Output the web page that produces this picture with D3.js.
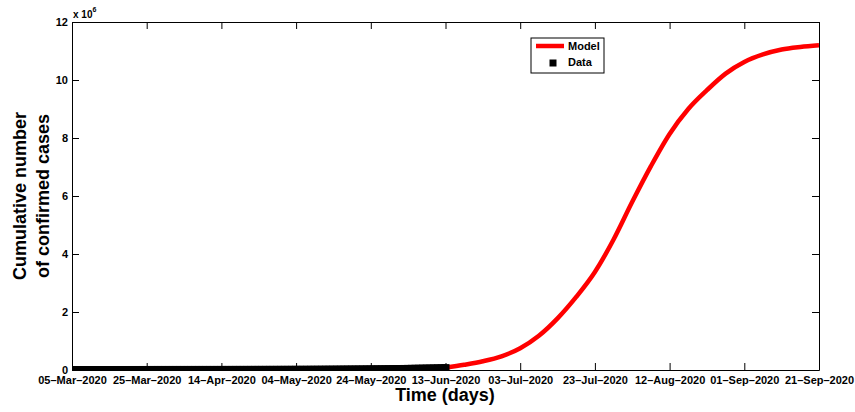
<!DOCTYPE html>
<html>
<head>
<meta charset="utf-8">
<script src="https://cdn.jsdelivr.net/npm/d3@7"></script>
<style>
  body { margin: 0; background: #fff; }
  text { font-family: "Liberation Sans", Arial, Helvetica, sans-serif; font-weight: bold; }
</style>
</head>
<body>
<div id="chart"></div>
<script>
// x tick labels (dates)
var tickLabels = ["05-Mar-2020", "25-Mar-2020", "14-Apr-2020", "04-May-2020", "24-May-2020",
    "13-Jun-2020", "03-Jul-2020", "23-Jul-2020", "12-Aug-2020", "01-Sep-2020", "21-Sep-2020"]
var yTicks = [0, 2, 4, 6, 8, 10, 12]

// observed cumulative cases, one value per day starting 05-Mar-2020
var dataStart = "05-Mar-2020"
var dataCases = [1, 1, 2, 3, 7, 7, 13, 16, 24, 38, 51, 62, 85, 116, 150, 202, 240, 274, 402, 554,
    709, 927, 1170, 1187, 1280, 1326, 1353, 1380, 1462, 1505, 1585, 1655, 1686, 1749, 1845, 1934,
    2003, 2028, 2173, 2272, 2415, 2506, 2605, 2783, 3034, 3158, 3300, 3465, 3635, 3953, 4220, 4361,
    4546, 4793, 4996, 5350, 5647, 5951, 6336, 6783, 7220, 7572, 7808, 8232, 8895, 9420, 10015,
    10652, 11350, 12074, 12739, 13524, 14355, 15515, 16433, 17200, 18003, 19137, 20125, 21343,
    22583, 23615, 24264, 25937, 27403, 29240, 30967, 32683, 34357, 35812, 37525, 40792, 43434,
    45973, 48285, 50879, 52991, 55421, 58568, 61927, 65736]

// model curve (days since 05-Mar-2020, cases in millions)
var modelDays = [100, 105, 110, 115, 120, 125, 130, 135, 140, 145, 150, 155, 160, 165, 170, 175, 180, 185, 190, 195, 200]
var modelCases = [0.08, 0.18, 0.30, 0.47, 0.75, 1.18, 1.78, 2.52, 3.38, 4.50, 5.80, 7.03, 8.14, 9.00, 9.65, 10.22, 10.62, 10.88, 11.05, 11.14, 11.20]

var svgSize = { width: 855, height: 412 }
var margin = { top: 22, bottom: 42, left: 72, right: 36 }
var chartSize = {
    width: svgSize.width - margin.left - margin.right,
    height: svgSize.height - margin.top - margin.bottom
}

var parseDate = d3.timeParse("%d-%b-%Y")
var fmtDate = d3.timeFormat("%d\u2013%b\u2013%Y")
var start = parseDate(dataStart)
var tickDates = tickLabels.map(parseDate)
var dayToDate = d => d3.timeDay.offset(start, d)

var svg = d3.select("#chart")
    .append("svg")
    .attr("width", svgSize.width)
    .attr("height", svgSize.height)

var frame = svg.append("g")
    .attr("transform", `translate(${margin.left}, ${margin.top})`)

var xScale = d3.scaleTime()
    .domain([tickDates[0], tickDates[tickDates.length - 1]])
    .range([0, chartSize.width])

var yScale = d3.scaleLinear()
    .domain([0, 12])
    .range([chartSize.height, 0])

frame.append("clipPath").attr("id", "plotClip")
    .append("rect")
    .attr("width", chartSize.width)
    .attr("height", chartSize.height)

// axes with inward ticks, on all four sides
var bottomAxis = d3.axisBottom(xScale).tickValues(tickDates).tickFormat(fmtDate)
    .tickSizeInner(-7).tickSizeOuter(0).tickPadding(6)
var topAxis = d3.axisTop(xScale).tickValues(tickDates).tickFormat("")
    .tickSizeInner(-7).tickSizeOuter(0)
var leftAxis = d3.axisLeft(yScale).tickValues(yTicks).tickFormat(d3.format("d"))
    .tickSizeInner(-7).tickSizeOuter(0).tickPadding(4)
var rightAxis = d3.axisRight(yScale).tickValues(yTicks).tickFormat("")
    .tickSizeInner(-7).tickSizeOuter(0)

frame.append("g").attr("class", "axis").attr("transform", `translate(0, ${chartSize.height})`).call(bottomAxis)
frame.append("g").attr("class", "axis").call(topAxis)
frame.append("g").attr("class", "axis").call(leftAxis)
frame.append("g").attr("class", "axis").attr("transform", `translate(${chartSize.width}, 0)`).call(rightAxis)

frame.selectAll(".axis text")
    .attr("font-size", 11)
    .attr("fill", "#000")
frame.selectAll(".axis path, .axis line").attr("stroke", "#000")

// model line
var line = d3.line()
    .x((d, i) => xScale(dayToDate(modelDays[i])))
    .y(d => yScale(d))
    .curve(d3.curveMonotoneX)

var plot = frame.append("g").attr("clip-path", "url(#plotClip)")

plot.append("path")
    .datum(modelCases)
    .attr("d", line)
    .attr("fill", "none")
    .attr("stroke", "#ff0000")
    .attr("stroke-width", 4.5)

// data markers
var sq = 8
plot.selectAll("rect.data")
    .data(dataCases)
    .enter()
    .append("rect")
    .attr("class", "data")
    .attr("x", (d, i) => xScale(dayToDate(i)) - sq / 2)
    .attr("y", d => yScale(d / 1e6) - sq / 2)
    .attr("width", sq)
    .attr("height", sq)
    .attr("fill", "#000")

// exponent label
var expo = frame.append("text")
    .attr("x", 1)
    .attr("y", -4)
    .attr("font-size", 10)
expo.append("tspan").text("x 10")
expo.append("tspan").attr("dy", -6).attr("font-size", 7).text("6")

// axis titles
frame.append("text")
    .attr("x", 445 - margin.left)
    .attr("y", 401 - margin.top)
    .attr("text-anchor", "middle")
    .attr("font-size", 18)
    .text("Time (days)")

var yTitle = frame.append("text")
    .attr("transform", `translate(${-margin.left}, ${chartSize.height / 2}) rotate(-90)`)
    .attr("text-anchor", "middle")
    .attr("font-size", 18)
yTitle.append("tspan").attr("x", 0).attr("y", 26).text("Cumulative number")
yTitle.append("tspan").attr("x", 0).attr("y", 49).text("of confirmed cases")

// legend
var legend = svg.append("g").attr("transform", "translate(531, 38)")
legend.append("rect")
    .attr("width", 73)
    .attr("height", 35)
    .attr("fill", "#fff")
    .attr("stroke", "#000")
legend.append("line")
    .attr("x1", 5).attr("x2", 33)
    .attr("y1", 8).attr("y2", 8)
    .attr("stroke", "#ff0000")
    .attr("stroke-width", 4.5)
legend.append("text").attr("x", 37).attr("y", 12).attr("font-size", 11).text("Model")
legend.append("rect")
    .attr("x", 18.5).attr("y", 21.5)
    .attr("width", 7).attr("height", 7)
    .attr("fill", "#000")
legend.append("text").attr("x", 37).attr("y", 28).attr("font-size", 11).text("Data")
</script>
</body>
</html>
